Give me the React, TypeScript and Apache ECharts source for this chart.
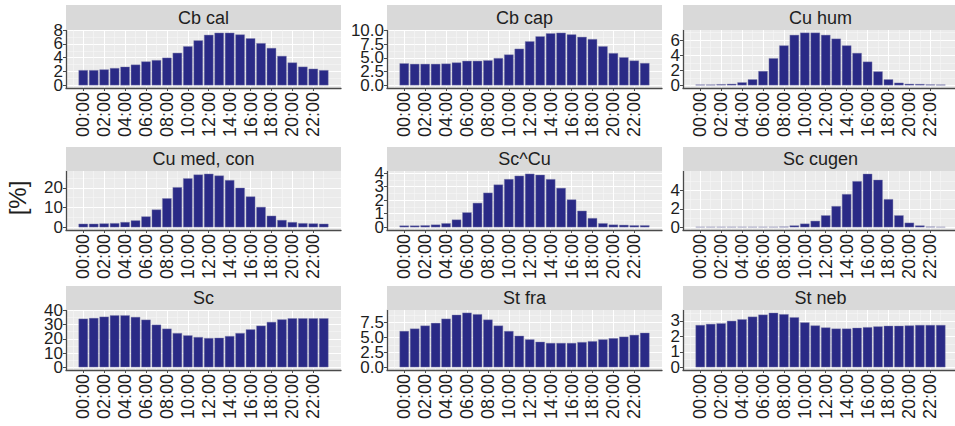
import React, { useEffect, useRef } from "react";
import * as echarts from "echarts";

// ---- data ----
const hours = [0, 1, 2, 3, 4, 5, 6, 7, 8, 9, 10, 11, 12, 13, 14, 15, 16, 17, 18, 19, 20, 21, 22, 23];
const xTickValues = [0, 2, 4, 6, 8, 10, 12, 14, 16, 18, 20, 22];
const xTickLabels = ["00:00", "02:00", "04:00", "06:00", "08:00", "10:00", "12:00", "14:00", "16:00", "18:00", "20:00", "22:00"];
const xMinorValues = [-1, 1, 3, 5, 7, 9, 11, 13, 15, 17, 19, 21, 23];

const panelNames = ["Cb cal", "Cb cap", "Cu hum", "Cu med, con", "Sc^Cu", "Sc cugen", "Sc", "St fra", "St neb"];

const cbCal = [2.2, 2.2, 2.3, 2.5, 2.7, 3.0, 3.45, 3.65, 4.0, 4.7, 5.65, 6.5, 7.3, 7.6, 7.6, 7.35, 6.8, 6.1, 5.4, 4.25, 3.3, 2.7, 2.4, 2.2];
const cbCap = [4.0, 3.9, 3.9, 3.9, 3.95, 4.15, 4.45, 4.45, 4.55, 4.95, 5.6, 6.65, 8.0, 8.9, 9.45, 9.55, 9.25, 8.8, 8.4, 7.1, 5.85, 5.1, 4.5, 4.05];
const cuHum = [0.1, 0.1, 0.15, 0.2, 0.4, 0.8, 1.9, 3.6, 5.3, 6.7, 7.0, 7.0, 6.7, 6.2, 5.3, 4.3, 3.15, 1.85, 0.8, 0.35, 0.2, 0.18, 0.12, 0.1];
const cuMedCon = [1.8, 1.8, 1.95, 2.1, 2.65, 3.5, 5.5, 9.0, 14.7, 20.3, 24.8, 26.7, 27.1, 26.2, 23.9, 20.0, 15.6, 10.3, 5.85, 3.7, 2.65, 2.1, 1.95, 1.8];
const scCu = [0.13, 0.13, 0.15, 0.2, 0.3, 0.57, 1.1, 1.8, 2.55, 3.15, 3.55, 3.8, 3.95, 3.87, 3.55, 2.9, 2.05, 1.22, 0.68, 0.3, 0.2, 0.18, 0.15, 0.15];
const scCugen = [0.05, 0.05, 0.05, 0.05, 0.05, 0.05, 0.05, 0.05, 0.07, 0.2, 0.4, 0.7, 1.3, 2.3, 3.6, 5.0, 5.8, 5.15, 3.05, 1.3, 0.5, 0.2, 0.07, 0.05];
const sc = [34.1, 34.6, 35.5, 36.5, 36.5, 35.3, 33.4, 29.9, 27.1, 24.0, 22.4, 21.2, 20.5, 20.7, 21.9, 24.0, 26.6, 29.2, 31.8, 33.6, 34.4, 34.4, 34.4, 34.4];
const stFra = [6.05, 6.45, 6.95, 7.4, 8.1, 8.75, 9.1, 8.85, 7.95, 6.95, 6.05, 5.25, 4.65, 4.25, 4.05, 4.05, 4.05, 4.2, 4.35, 4.65, 4.85, 5.1, 5.4, 5.75];
const stNeb = [2.73, 2.8, 2.84, 3.0, 3.1, 3.27, 3.4, 3.52, 3.43, 3.23, 2.9, 2.7, 2.57, 2.5, 2.5, 2.55, 2.59, 2.64, 2.68, 2.68, 2.7, 2.73, 2.73, 2.73];

const panelValues = [cbCal, cbCap, cuHum, cuMedCon, scCu, scCugen, sc, stFra, stNeb];

const yTicks = [
  [0, 2, 4, 6, 8],
  [0, 2.5, 5, 7.5, 10],
  [0, 2, 4, 6],
  [0, 10, 20],
  [0, 1, 2, 3, 4],
  [0, 2, 4],
  [0, 10, 20, 30, 40],
  [0, 2.5, 5, 7.5],
  [0, 1, 2, 3],
];
const yMinorTicks = [
  [1, 3, 5, 7],
  [1.25, 3.75, 6.25, 8.75],
  [1, 3, 5, 7],
  [5, 15, 25],
  [0.5, 1.5, 2.5, 3.5],
  [1, 3, 5],
  [5, 15, 25, 35],
  [1.25, 3.75, 6.25, 8.75],
  [0.5, 1.5, 2.5, 3.5],
];
const yDecimals = [0, 1, 0, 0, 0, 0, 0, 1, 0];
const yTop = [8.0, 10.05, 7.35, 28.5, 4.15, 6.1, 40.2, 9.55, 3.7];

// ---- layout ----
const FONT = "'Liberation Sans', Arial, Helvetica, sans-serif";
const colLeft = [66, 387, 683];
const panelW = 275;
const stripTop = [5, 147, 286];
const plotTop = [30, 171, 310];
const plotBottom = [88, 230, 370];
const BAR = "#2a2a86";
const AXIS = "#4a4a4a";
const TXT = "#1e1e1e";

function buildOption() {
  const grid: any[] = [];
  const xAxis: any[] = [];
  const yAxis: any[] = [];
  const series: any[] = [];
  const graphic: any[] = [];

  panelNames.forEach((name, i) => {
    const r = Math.floor(i / 3);
    const c = i % 3;
    const left = colLeft[c];
    const top = plotTop[r];
    const h = plotBottom[r] - plotTop[r];
    grid.push({
      left,
      top,
      width: panelW,
      height: h,
      show: true,
      backgroundColor: "#EBEBEB",
      borderWidth: 0,
      outerBoundsMode: "none",
    });
    const xMin = -1.65;
    const xMax = 24.65;
    xAxis.push({
      type: "value",
      gridIndex: i,
      min: xMin,
      max: xMax,
      position: "bottom",
      axisLine: { show: true, onZero: false, lineStyle: { color: AXIS, width: 1.3 } },
      axisTick: { show: true, length: 3, customValues: xTickValues, lineStyle: { color: AXIS, width: 1 } },
      axisLabel: {
        customValues: xTickValues,
        interval: 0,
        showMinLabel: true,
        showMaxLabel: true,
        hideOverlap: false,
        rotate: 90,
        margin: 4,
        fontSize: 18,
        fontFamily: FONT,
        color: TXT,
        formatter: (v: number) => {
          const k = xTickValues.indexOf(Math.round(v));
          return k >= 0 ? xTickLabels[k] : "";
        },
      },
      splitLine: { show: true, lineStyle: { color: "#FFFFFF", width: 1.1 } },
    });
    xAxis.push({
      type: "value",
      gridIndex: i,
      min: xMin,
      max: xMax,
      position: "top",
      axisLine: { show: false },
      axisTick: { show: false, customValues: xMinorValues },
      axisLabel: { show: false, customValues: xMinorValues },
      splitLine: { show: true, lineStyle: { color: "#F7F7F7", width: 0.6 } },
    });
    const yMax = yTop[i];
    const yMin = -yMax / 21;
    const dec = yDecimals[i];
    const ticks = yTicks[i];
    const evenTicks = ticks.filter((_, k) => k % 2 === 0);
    const oddTicks = ticks.filter((_, k) => k % 2 === 1);
    const yLabelStyle = {
      interval: 0,
      showMinLabel: true,
      showMaxLabel: true,
      hideOverlap: false,
      margin: 3,
      fontSize: 17,
      fontFamily: FONT,
      color: TXT,
      formatter: (v: number) => v.toFixed(dec),
    };
    // major axis (line, ticks, labels at every other tick)
    yAxis.push({
      type: "value",
      gridIndex: i,
      min: yMin,
      max: yMax,
      position: "left",
      axisLine: { show: true, onZero: false, lineStyle: { color: AXIS, width: 1.3 } },
      axisTick: { show: true, length: 3, customValues: ticks, lineStyle: { color: AXIS, width: 1 } },
      axisLabel: { ...yLabelStyle, customValues: evenTicks },
      splitLine: { show: true, lineStyle: { color: "#FFFFFF", width: 1.1 } },
    });
    // companion axis carrying the remaining tick labels
    yAxis.push({
      type: "value",
      gridIndex: i,
      min: yMin,
      max: yMax,
      position: "left",
      offset: 0,
      axisLine: { show: false },
      axisTick: { show: false, customValues: ticks },
      axisLabel: { ...yLabelStyle, show: oddTicks.length > 0, customValues: oddTicks.length ? oddTicks : [0] },
      splitLine: { show: false },
    });
    // minor grid axis
    yAxis.push({
      type: "value",
      gridIndex: i,
      min: yMin,
      max: yMax,
      position: "right",
      axisLine: { show: false },
      axisTick: { show: false, customValues: yMinorTicks[i] },
      axisLabel: { show: false, customValues: yMinorTicks[i] },
      splitLine: { show: true, lineStyle: { color: "#F7F7F7", width: 0.6 } },
    });
    series.push({
      type: "bar",
      name,
      xAxisIndex: 2 * i,
      yAxisIndex: 3 * i,
      barWidth: "90%",
      data: hours.map((hh, j) => [hh, panelValues[i][j]]),
      itemStyle: { color: BAR, borderColor: "#8c8cb0", borderWidth: 0.4 },
      z: 3,
    });
    // strip
    graphic.push({
      type: "rect",
      silent: true,
      shape: { x: left, y: stripTop[r], width: panelW, height: plotTop[r] - stripTop[r] },
      style: { fill: "#D9D9D9" },
      z: 1,
    });
    graphic.push({
      type: "text",
      silent: true,
      x: left + panelW / 2,
      y: (stripTop[r] + plotTop[r]) / 2,
      style: {
        text: name,
        fill: TXT,
        font: `18px ${FONT}`,
        textAlign: "center",
        textVerticalAlign: "middle",
      },
      z: 2,
    });
  });

  graphic.push({
    type: "text",
    silent: true,
    x: 17,
    y: 198,
    rotation: Math.PI / 2,
    style: {
      text: "[%]",
      fill: TXT,
      font: `24px ${FONT}`,
      textAlign: "center",
      textVerticalAlign: "middle",
    },
  });

  return {
    animation: false,
    backgroundColor: "#FFFFFF",
    grid,
    xAxis,
    yAxis,
    series,
    graphic,
  };
}

export default function App() {
  const ref = useRef<HTMLDivElement>(null);
  useEffect(() => {
    if (!ref.current) return;
    const chart = echarts.init(ref.current, null, { renderer: "svg" });
    chart.setOption(buildOption() as any);
    return () => chart.dispose();
  }, []);
  return (
    <div
      ref={ref}
      style={{ position: "fixed", left: 0, top: 0, width: 955, height: 426, background: "#fff" }}
    />
  );
}
